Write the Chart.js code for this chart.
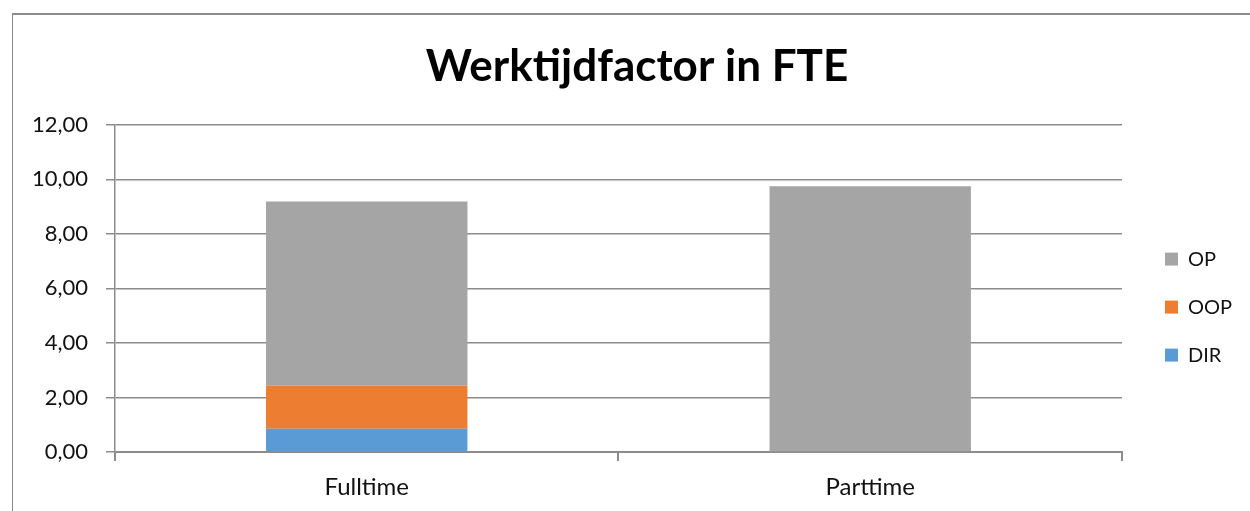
<!DOCTYPE html>
<html>
<head>
<meta charset="utf-8">
<title>Werktijdfactor in FTE</title>
<script src="https://cdn.jsdelivr.net/npm/chart.js@4.4.1/dist/chart.umd.min.js"></script>
<style>
  html, body { margin: 0; padding: 0; background: #fff; overflow: hidden; }
  #wrap { position: relative; width: 1250px; height: 511px; }
  #frame {
    position: absolute; left: 12px; top: 13px; right: -5px; bottom: -5px;
    border-left: 1px solid #8c8c8c; border-top: 2px solid #8c8c8c;
    pointer-events: none;
  }
</style>
</head>
<body>
<div id="wrap">
  <canvas id="fteChart" width="1250" height="511"></canvas>
  <div id="frame"></div>
</div>
<script>
// chart data
const categories = ['Fulltime', 'Parttime'];
const dirValues  = [0.85, 0];
const oopValues  = [1.59, 0];
const opValues   = [6.75, 9.75];
const yTicks     = [0, 2, 4, 6, 8, 10, 12];

const FONT = "Lato, 'Open Sans', sans-serif";
const GRID = '#8c8c8c';

const fmt = v => v.toFixed(2).replace('.', ',');

new Chart(document.getElementById('fteChart'), {
  type: 'bar',
  data: {
    labels: categories,
    datasets: [
      { label: 'DIR', data: dirValues, backgroundColor: '#5b9bd5' },
      { label: 'OOP', data: oopValues, backgroundColor: '#ed7d31' },
      { label: 'OP',  data: opValues,  backgroundColor: '#a5a5a5' }
    ]
  },
  options: {
    responsive: false,
    animation: false,
    categoryPercentage: 1,
    barPercentage: 0.4,
    layout: { padding: { left: 32, right: 8, top: 30, bottom: 0 } },
    plugins: {
      title: {
        display: true, text: 'Werktijdfactor in FTE', color: '#000',
        font: { family: FONT, size: 44, weight: 'bold' },
        padding: { top: 10, bottom: 32 }
      },
      legend: {
        position: 'right', reverse: true,
        // empty title only pushes the legend items down
        title: { display: true, text: ' ', font: { size: 1 }, padding: { top: 0, bottom: 72 } },
        labels: {
          color: '#111', boxWidth: 13, boxHeight: 13, padding: 28,
          font: { family: FONT, size: 20 }
        }
      },
      tooltip: { enabled: false }
    },
    scales: {
      x: {
        stacked: true,
        offset: true,
        afterFit: s => { s.height = 59; },
        grid: { offset: true, drawOnChartArea: false, color: GRID, tickLength: 9, lineWidth: 2 },
        border: { color: GRID, width: 2 },
        ticks: { color: '#111', font: { family: FONT, size: 24 }, padding: 12 }
      },
      y: {
        stacked: true,
        min: 0, max: 12,
        afterBuildTicks: s => { s.ticks = yTicks.map(v => ({ value: v })); },
        afterFit: s => { s.width = 83; },
        grid: { color: GRID, tickLength: 9, lineWidth: 1.5 },
        border: { color: GRID, width: 1.5 },
        ticks: { color: '#111', font: { family: FONT, size: 22 }, padding: 18, callback: v => fmt(v) }
      },
      // spacer between plot area and legend
      gap: {
        type: 'linear', position: 'right',
        afterFit: s => { s.width = 15; },
        grid: { display: false }, border: { display: false }, ticks: { display: false }
      }
    }
  }
});
</script>
</body>
</html>
